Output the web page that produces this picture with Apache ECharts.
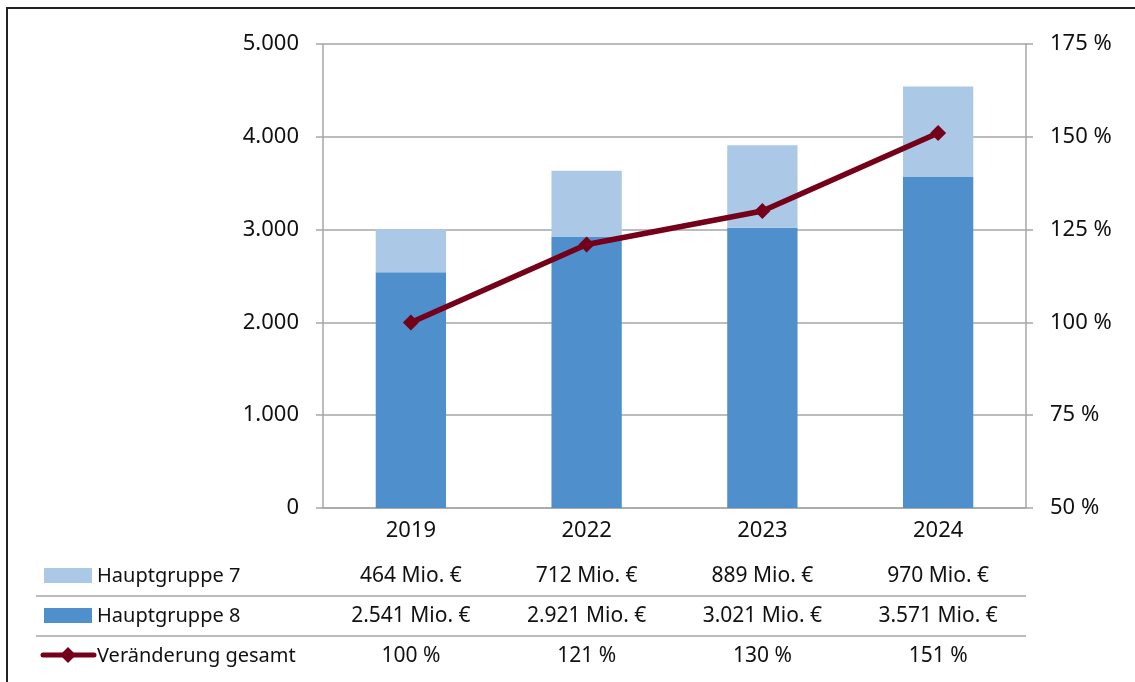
<!DOCTYPE html>
<html>
<head>
<meta charset="utf-8">
<script src="https://cdn.jsdelivr.net/npm/echarts@6/dist/echarts.min.js"></script>
<style>
html,body{margin:0;padding:0;background:#fff;}
#c{width:1135px;height:682px;}
</style>
</head>
<body>
<div id="c"></div>
<script>
const categories = ['2019', '2022', '2023', '2024'];
const hg7 = [464, 712, 889, 970];
const hg8 = [2541, 2921, 3021, 3571];
const change = [100, 121, 130, 151];
const leftTicks = { min: 0, max: 5000, interval: 1000 };
const rightTicks = { min: 50, max: 175, interval: 25 };
const seriesNames = ['Hauptgruppe 7', 'Hauptgruppe 8', 'Veränderung gesamt'];

const FONT = 'Noto Sans';
const GRAY = '#A6A6A6';
const C7 = '#ABC9E7';
const C8 = '#4F8FCC';
const CL = '#74001A';

function fmtNum(v) {
  return String(v).replace(/\B(?=(\d{3})+(?!\d))/g, '.');
}
const row7 = hg7.map(v => fmtNum(v) + ' Mio. €');
const row8 = hg8.map(v => fmtNum(v) + ' Mio. €');
const rowC = change.map(v => v + ' %');

function tableAxis(data, offset) {
  return {
    type: 'category', data: data, gridIndex: 0, position: 'bottom', offset: offset,
    axisLine: { show: false }, axisTick: { show: false },
    axisLabel: { color: '#111', fontFamily: FONT, fontSize: 21, margin: 12, interval: 0 }
  };
}

const chart = echarts.init(document.getElementById('c'));
chart.setOption({
  animation: false,
  backgroundColor: '#fff',
  textStyle: { fontFamily: FONT },
  grid: { left: 323, right: 109, top: 44, height: 464 },
  xAxis: [
    {
      type: 'category', data: categories,
      axisLine: { show: true, lineStyle: { color: GRAY, width: 1.5 } },
      axisTick: { show: false },
      axisLabel: { color: '#111', fontFamily: FONT, fontSize: 22, margin: 12 }
    },
    tableAxis(row7, 46),
    tableAxis(row8, 86),
    tableAxis(rowC, 126)
  ],
  yAxis: [
    {
      type: 'value', min: leftTicks.min, max: leftTicks.max, interval: leftTicks.interval,
      axisLine: { show: true, lineStyle: { color: GRAY, width: 1.5 } },
      axisTick: { show: true, length: 7, lineStyle: { color: GRAY, width: 1.5 } },
      splitLine: { show: true, lineStyle: { color: GRAY, width: 1.5 } },
      axisLabel: { color: '#111', fontFamily: FONT, fontSize: 22, margin: 24, formatter: v => fmtNum(v) }
    },
    {
      type: 'value', position: 'right', min: rightTicks.min, max: rightTicks.max, interval: rightTicks.interval,
      axisLine: { show: true, lineStyle: { color: GRAY, width: 1.5 } },
      axisTick: { show: true, length: 7, lineStyle: { color: GRAY, width: 1.5 } },
      splitLine: { show: false },
      axisLabel: { color: '#111', fontFamily: FONT, fontSize: 22, margin: 24, formatter: v => v + ' %' }
    }
  ],
  series: [
    {
      name: seriesNames[1], type: 'bar', stack: 'a', data: hg8, barWidth: '40%',
      itemStyle: { color: C8 }
    },
    {
      name: seriesNames[0], type: 'bar', stack: 'a', data: hg7, barWidth: '40%',
      itemStyle: { color: C7 }
    },
    {
      name: seriesNames[2], type: 'line', yAxisIndex: 1, data: change,
      symbol: 'diamond', symbolSize: 16,
      lineStyle: { color: CL, width: 5.5 }, itemStyle: { color: CL }, z: 5
    }
  ],
  graphic: [
    { type: 'line', shape: { x1: 6, y1: 8, x2: 1135, y2: 8 }, style: { stroke: '#222', lineWidth: 2 } },
    { type: 'line', shape: { x1: 7, y1: 8, x2: 7, y2: 682 }, style: { stroke: '#222', lineWidth: 2 } },
    { type: 'line', shape: { x1: 36, y1: 596, x2: 1026, y2: 596 }, style: { stroke: GRAY, lineWidth: 1.5 } },
    { type: 'line', shape: { x1: 36, y1: 636, x2: 1026, y2: 636 }, style: { stroke: GRAY, lineWidth: 1.5 } },
    { type: 'rect', shape: { x: 44, y: 568, width: 48, height: 15 }, style: { fill: C7 } },
    { type: 'rect', shape: { x: 44, y: 608, width: 48, height: 15 }, style: { fill: C8 } },
    { type: 'line', shape: { x1: 43, y1: 655, x2: 94, y2: 655 }, style: { stroke: CL, lineWidth: 5, lineCap: 'round' } },
    { type: 'polygon', shape: { points: [[68, 647], [76, 655], [68, 663], [60, 655]] }, style: { fill: CL } },
    { type: 'text', x: 97, y: 576, style: { text: seriesNames[0], font: '20px "Noto Sans"', fill: '#111', textVerticalAlign: 'middle' } },
    { type: 'text', x: 97, y: 616, style: { text: seriesNames[1], font: '20px "Noto Sans"', fill: '#111', textVerticalAlign: 'middle' } },
    { type: 'text', x: 97, y: 656, style: { text: seriesNames[2], font: '20px "Noto Sans"', fill: '#111', textVerticalAlign: 'middle' } }
  ]
});
</script>
</body>
</html>
